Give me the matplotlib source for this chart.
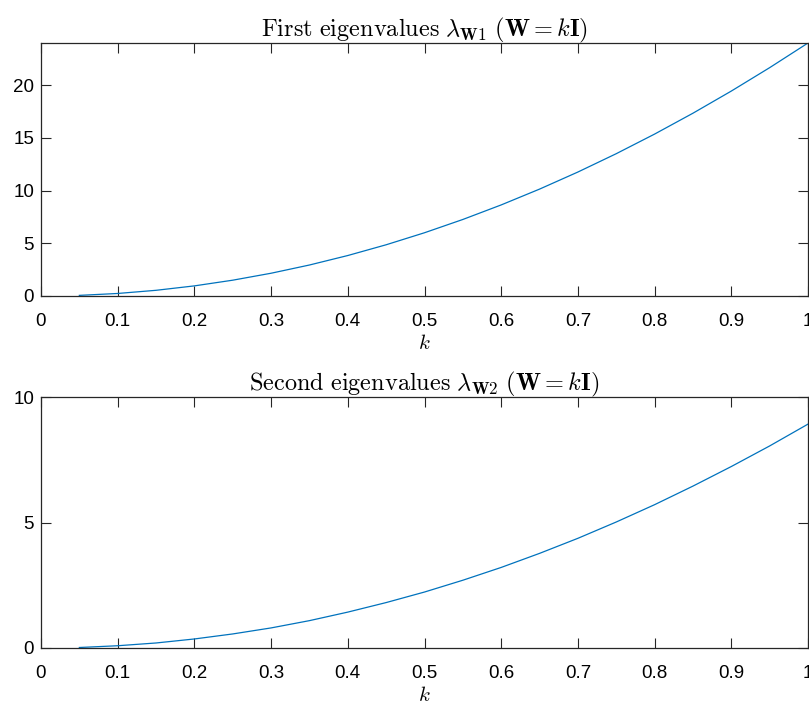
import numpy as np
import matplotlib
matplotlib.use('Agg')
import matplotlib.pyplot as plt

# values
k = [0.05, 0.10, 0.15, 0.20, 0.25, 0.30, 0.35, 0.40, 0.45, 0.50,
     0.55, 0.60, 0.65, 0.70, 0.75, 0.80, 0.85, 0.90, 0.95, 1.00]
lambda_w1 = [0.06, 0.24, 0.54, 0.96, 1.50, 2.16, 2.94, 3.84, 4.86, 6.00,
             7.26, 8.64, 10.14, 11.76, 13.50, 15.36, 17.34, 19.44, 21.66, 24.00]
lambda_w2 = [0.02, 0.09, 0.20, 0.36, 0.56, 0.80, 1.09, 1.43, 1.81, 2.23,
             2.70, 3.21, 3.77, 4.37, 5.02, 5.71, 6.45, 7.23, 8.05, 8.92]

titles = [r'$\mathrm{First\ eigenvalues}\ \lambda_{\mathbf{W}1}\ (\mathbf{W}=k\mathbf{I})$',
          r'$\mathrm{Second\ eigenvalues}\ \lambda_{\mathbf{W}2}\ (\mathbf{W}=k\mathbf{I})$']
xticks = [0, 0.1, 0.2, 0.3, 0.4, 0.5, 0.6, 0.7, 0.8, 0.9, 1]
xticklabels = ['0', '0.1', '0.2', '0.3', '0.4', '0.5', '0.6', '0.7', '0.8', '0.9', '1']
yticks_top = [0, 5, 10, 15, 20]
yticks_bot = [0, 5, 10]

plt.rcParams['mathtext.fontset'] = 'cm'
plt.rcParams['font.family'] = ['Liberation Sans', 'DejaVu Sans']

fig = plt.figure(figsize=(8.09, 7.04), dpi=100)
ax1 = fig.add_axes([41 / 809, 1 - 296 / 704, 767 / 809, 253 / 704])
ax2 = fig.add_axes([41 / 809, 1 - 648 / 704, 767 / 809, 251 / 704])

for ax, y, title, yt, ylim in [(ax1, lambda_w1, titles[0], yticks_top, 24),
                               (ax2, lambda_w2, titles[1], yticks_bot, 10)]:
    ax.plot(k, y, color='#0072BD', linewidth=0.9)
    ax.set_xlim(0, 1)
    ax.set_ylim(0, ylim)
    ax.set_xticks(xticks)
    ax.set_xticklabels(xticklabels)
    ax.set_yticks(yt)
    ax.tick_params(direction='in', length=7, width=0.8, top=True, right=True,
                   labelsize=13.5, color='#262626', labelcolor='#000000')
    ax.tick_params(axis='x', pad=12)
    ax.tick_params(axis='y', pad=5)
    for sp in ax.spines.values():
        sp.set_color('#262626')
        sp.set_linewidth(0.9)
    ax.set_title(title, fontsize=17.5, pad=5)
    ax.set_xlabel(r'$k$', fontsize=15, labelpad=3)

fig.savefig('out.png', dpi=100)
